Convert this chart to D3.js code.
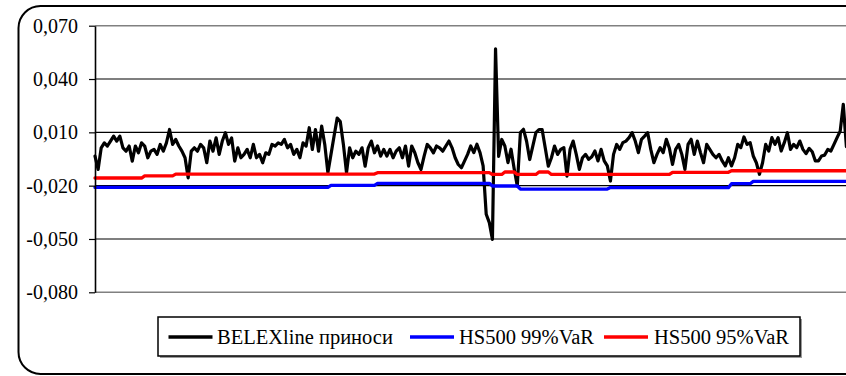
<!DOCTYPE html>
<html>
<head>
<meta charset="utf-8">
<script src="https://cdn.jsdelivr.net/npm/d3@7"></script>
<style>
  html, body { margin: 0; padding: 0; background: #fff; }
  svg { display: block; }
  svg text { font-family: "Liberation Serif", "DejaVu Serif", "Times New Roman", serif; fill: #000; }
</style>
</head>
<body>
<svg id="chart" width="846" height="376"></svg>
<script>
// Daily BELEXline returns
const returns = [
  -0.0034, -0.0109, 0.0013, 0.0041, 0.0023, 0.0051, 0.0079, 0.0051, 0.0079, 0.0013,
  -0.0006, 0.0023, -0.0062, 0.0023, -0.0015, 0.0041, 0.0023, -0.0043, -0.0006, 0.0004,
  -0.0024, 0.0032, -0.0006, 0.0041, 0.0116, 0.0032, 0.0060, 0.0023, -0.0006, -0.0043,
  -0.0156, -0.0006, 0.0013, -0.0006, 0.0032, 0.0013, -0.0071, 0.0051, -0.0006, 0.0069,
  -0.0024, 0.0051, 0.0098, 0.0032, 0.0069, -0.0062, 0.0013, -0.0043, -0.0024, 0.0004,
  -0.0043, 0.0032, -0.0043, -0.0024, -0.0071, -0.0015, -0.0024, 0.0032, 0.0023, 0.0041,
  0.0032, 0.0060, 0.0013, 0.0032, -0.0024, 0.0004, -0.0043, 0.0041, 0.0023, 0.0126,
  0.0004, 0.0116, -0.0006, 0.0135, 0.0032, -0.0127, -0.0024, 0.0079, 0.0180, 0.0160,
  0.0032, -0.0127, 0.0013, -0.0043, -0.0006, -0.0024, 0.0013, -0.0090, 0.0013, 0.0051,
  -0.0015, 0.0023, -0.0034, 0.0004, -0.0034, 0.0004, -0.0043, -0.0006, 0.0013, -0.0043,
  0.0023, -0.0090, 0.0023, -0.0015, -0.0071, -0.0109, -0.0034, 0.0032, 0.0013, -0.0015,
  0.0023, 0.0013, -0.0006, 0.0023, 0.0051, 0.0013, -0.0043, -0.0081, -0.0099, -0.0062,
  -0.0024,
  0.0023, -0.0014, 0.0033, -0.0014, -0.0089, -0.0361, -0.0408, -0.0502, 0.0570,
  -0.0035, 0.0060, 0.0023, -0.0070, 0.0005, -0.0105, -0.0202, 0.0098, 0.0117,
  0.0050, -0.0053, 0.0023, 0.0098, 0.0116, 0.0116, 0.0013, -0.0090, -0.0043, 0.0023, -0.0024,
  0.0004, 0.0014, -0.0146, 0.0004, 0.0051, -0.0024, -0.0108, -0.0043, -0.0024, -0.0052,
  -0.0037, -0.0005, -0.0061, 0.0004, -0.0061, -0.0089, -0.0174, -0.0024, 0.0032, 0.0004,
  0.0042, 0.0051, 0.0070, 0.0098, 0.0051, -0.0014, 0.0061, 0.0079, 0.0098, 0.0004,
  -0.0071, -0.0024, 0.0014,
  -0.0014, 0.0061, 0.0010, -0.0080, 0.0004, 0.0032, -0.0024, -0.0108, 0.0032, 0.0061,
  -0.0024, 0.0051, -0.0014, -0.0071, 0.0032, 0.0004, -0.0024, -0.0043, -0.0024, -0.0061,
  -0.0089, -0.0043, -0.0089, -0.0043, 0.0032, 0.0014, 0.0074, 0.0032, 0.0042, -0.0033,
  -0.0071, -0.0136, -0.0071, 0.0032, -0.0005, 0.0070, 0.0032, 0.0070, -0.0005, 0.0042,
  0.0098, 0.0004, 0.0032, 0.0014, 0.0051, 0.0004, -0.0020, 0.0010, -0.0009, -0.0061,
  -0.0061, -0.0033, -0.0028, 0.0004, -0.0005, 0.0032, 0.0070, 0.0107, 0.0258, 0.0020
];

// Historical-simulation VaR, 500-day window, 99% level
const var99 = [
  -0.0210, -0.0210, -0.0210, -0.0210, -0.0210, -0.0210, -0.0210, -0.0210, -0.0210, -0.0210,
  -0.0210, -0.0210, -0.0210, -0.0210, -0.0210, -0.0210, -0.0210, -0.0210, -0.0210, -0.0210,
  -0.0210, -0.0210, -0.0210, -0.0210, -0.0210, -0.0210, -0.0210, -0.0210, -0.0210, -0.0210,
  -0.0210, -0.0210, -0.0210, -0.0210, -0.0210, -0.0210, -0.0210, -0.0210, -0.0210, -0.0210,
  -0.0210, -0.0210, -0.0210, -0.0210, -0.0210, -0.0210, -0.0210, -0.0210, -0.0210, -0.0210,
  -0.0210, -0.0210, -0.0210, -0.0210, -0.0210, -0.0210, -0.0210, -0.0210, -0.0210, -0.0210,
  -0.0210, -0.0210, -0.0210, -0.0210, -0.0210, -0.0210, -0.0210, -0.0210, -0.0210, -0.0210,
  -0.0210, -0.0210, -0.0210, -0.0210, -0.0210, -0.0210,
  -0.0198, -0.0198, -0.0198, -0.0198, -0.0198, -0.0198, -0.0198, -0.0198, -0.0198, -0.0198,
  -0.0198, -0.0198, -0.0198, -0.0198, -0.0198,
  -0.0187, -0.0187, -0.0187, -0.0187, -0.0187, -0.0187, -0.0187, -0.0187, -0.0187, -0.0187,
  -0.0187, -0.0187, -0.0187, -0.0187, -0.0187, -0.0187, -0.0187, -0.0187, -0.0187, -0.0187,
  -0.0187, -0.0187, -0.0187, -0.0187, -0.0187, -0.0187, -0.0187, -0.0187, -0.0187, -0.0187,
  -0.0187, -0.0187, -0.0187, -0.0187, -0.0187, -0.0187, -0.0187,
  -0.0202, -0.0202, -0.0202, -0.0202, -0.0202, -0.0202, -0.0202, -0.0202, -0.0202,
  -0.0219, -0.0219, -0.0219, -0.0219, -0.0219, -0.0219, -0.0219, -0.0219, -0.0219, -0.0219,
  -0.0219, -0.0219, -0.0219, -0.0219, -0.0219, -0.0219, -0.0219, -0.0219, -0.0219, -0.0219,
  -0.0219, -0.0219, -0.0219, -0.0219, -0.0219, -0.0219, -0.0219, -0.0219, -0.0219,
  -0.0211, -0.0211, -0.0211, -0.0211, -0.0211, -0.0211, -0.0211, -0.0211, -0.0211, -0.0211,
  -0.0211, -0.0211, -0.0211, -0.0211, -0.0211, -0.0211, -0.0211, -0.0211, -0.0211, -0.0211,
  -0.0211, -0.0211, -0.0211, -0.0211, -0.0211, -0.0211, -0.0211, -0.0211, -0.0211, -0.0211,
  -0.0211, -0.0211, -0.0211, -0.0211, -0.0211, -0.0211, -0.0211, -0.0211, -0.0211,
  -0.0189, -0.0189, -0.0189, -0.0189, -0.0189, -0.0189, -0.0189,
  -0.0176, -0.0176, -0.0176, -0.0176, -0.0176, -0.0176, -0.0176, -0.0176, -0.0176, -0.0176,
  -0.0176, -0.0176, -0.0176, -0.0176, -0.0176, -0.0176, -0.0176, -0.0176, -0.0176, -0.0176,
  -0.0176, -0.0176, -0.0176, -0.0176, -0.0176, -0.0176, -0.0176, -0.0176, -0.0176, -0.0176,
  -0.0176
];

// Historical-simulation VaR, 500-day window, 95% level
const var95 = [
  -0.0157, -0.0157, -0.0157, -0.0157, -0.0157, -0.0157, -0.0157, -0.0157, -0.0157, -0.0157,
  -0.0157, -0.0157, -0.0157, -0.0157, -0.0157, -0.0157,
  -0.0145, -0.0145, -0.0145, -0.0145, -0.0145, -0.0145, -0.0145, -0.0145, -0.0145, -0.0145,
  -0.0135, -0.0135, -0.0135, -0.0135, -0.0135, -0.0135, -0.0135, -0.0135, -0.0135, -0.0135,
  -0.0135, -0.0135, -0.0135, -0.0135, -0.0135, -0.0135, -0.0135, -0.0135, -0.0135, -0.0135,
  -0.0135, -0.0135, -0.0135, -0.0135, -0.0135, -0.0135, -0.0135, -0.0135, -0.0135, -0.0135,
  -0.0135, -0.0135, -0.0135, -0.0135, -0.0135, -0.0135, -0.0135, -0.0135, -0.0135, -0.0135,
  -0.0135, -0.0135, -0.0135, -0.0135, -0.0135, -0.0135, -0.0135, -0.0135, -0.0135, -0.0135,
  -0.0135, -0.0135, -0.0135, -0.0135, -0.0135, -0.0135, -0.0135, -0.0135, -0.0135, -0.0135,
  -0.0135, -0.0135, -0.0135, -0.0135, -0.0135,
  -0.0127, -0.0127, -0.0127, -0.0127, -0.0127, -0.0127, -0.0127, -0.0127, -0.0127, -0.0127,
  -0.0127, -0.0127, -0.0127, -0.0127, -0.0127, -0.0127, -0.0127, -0.0127, -0.0127, -0.0127,
  -0.0127, -0.0127, -0.0127, -0.0127, -0.0127, -0.0127, -0.0127, -0.0127, -0.0127, -0.0127,
  -0.0127, -0.0127, -0.0127, -0.0127, -0.0127, -0.0127, -0.0127,
  -0.0137, -0.0137, -0.0137, -0.0137,
  -0.0123, -0.0123, -0.0123, -0.0123,
  -0.0137, -0.0137, -0.0137, -0.0137, -0.0137, -0.0137, -0.0137,
  -0.0123, -0.0123, -0.0123, -0.0123,
  -0.0137, -0.0137, -0.0137, -0.0137, -0.0137, -0.0137, -0.0137, -0.0137, -0.0137, -0.0137,
  -0.0137, -0.0137, -0.0137, -0.0137, -0.0137, -0.0137, -0.0137, -0.0137, -0.0137, -0.0137,
  -0.0137, -0.0137, -0.0137, -0.0137, -0.0137, -0.0137, -0.0137, -0.0137, -0.0137, -0.0137,
  -0.0137, -0.0137, -0.0137, -0.0137, -0.0137, -0.0137, -0.0137, -0.0137, -0.0137,
  -0.0125, -0.0125, -0.0125, -0.0125, -0.0125, -0.0125, -0.0125, -0.0125, -0.0125, -0.0125,
  -0.0125, -0.0125, -0.0125, -0.0125, -0.0125, -0.0125, -0.0125, -0.0125, -0.0125,
  -0.0116, -0.0116, -0.0116, -0.0116, -0.0116, -0.0116, -0.0116, -0.0116, -0.0116, -0.0116,
  -0.0116, -0.0116, -0.0116, -0.0116, -0.0116, -0.0116, -0.0116, -0.0116, -0.0116, -0.0116,
  -0.0116, -0.0116, -0.0116, -0.0116, -0.0116, -0.0116, -0.0116, -0.0116, -0.0116, -0.0116,
  -0.0116, -0.0116, -0.0116, -0.0116, -0.0116, -0.0116, -0.0116, -0.0116
];

const yTicks = [0.07, 0.04, 0.01, -0.02, -0.05, -0.08];
const seriesNames = ["BELEXline приноси", "HS500 99%VaR", "HS500 95%VaR"];
const seriesColors = ["#000000", "#0000ff", "#ff0000"];
const serif = "'Liberation Serif', 'DejaVu Serif', 'Times New Roman', serif";

const svg = d3.select("#chart");
const plot = { left: 95, right: 846.4, top: 25.7, bottom: 292.3 };

const x = d3.scaleLinear().domain([0, returns.length - 1]).range([plot.left, plot.right]);
const y = d3.scaleLinear().domain([-0.08, 0.07]).range([plot.bottom, plot.top]);

const locale = d3.formatLocale({ decimal: ",", thousands: ".", grouping: [3], currency: ["", ""], minus: "-" });
const fmt = locale.format(".3f");

// chart frame with rounded corners (continues past the right edge)
svg.append("rect")
  .attr("x", 18.5).attr("y", 6).attr("width", 900).attr("height", 368)
  .attr("rx", 22).attr("ry", 22)
  .attr("fill", "#fff").attr("stroke", "#000").attr("stroke-width", 2);

// horizontal gridlines
svg.append("g")
  .selectAll("line")
  .data(yTicks.slice(1, -1))
  .join("line")
  .attr("x1", plot.left).attr("x2", plot.right)
  .attr("y1", d => y(d)).attr("y2", d => y(d))
  .attr("stroke", "#000").attr("stroke-width", 1.2);

// plot-area border (top and bottom edges)
svg.append("g")
  .selectAll("line")
  .data([0.07, -0.08])
  .join("line")
  .attr("x1", plot.left).attr("x2", plot.right)
  .attr("y1", d => y(d)).attr("y2", d => y(d))
  .attr("stroke", "#808080").attr("stroke-width", 1.5);

// series lines
const line = d3.line().x((d, i) => x(i)).y(d => y(d));
[returns, var99, var95].forEach((data, k) => {
  svg.append("path")
    .datum(data)
    .attr("d", line)
    .attr("fill", "none")
    .attr("stroke", seriesColors[k])
    .attr("stroke-width", k === 0 ? 3.2 : 3.3)
    .attr("stroke-linejoin", "round")
    .attr("stroke-linecap", "round");
});

// value axis
const yAxis = d3.axisLeft(y)
  .tickValues(yTicks)
  .tickFormat(fmt)
  .tickSizeInner(6)
  .tickSizeOuter(0)
  .tickPadding(11);

const gy = svg.append("g")
  .attr("transform", `translate(${plot.left},0)`)
  .call(yAxis)
  .attr("font-family", serif)
  .attr("font-size", 20);
gy.select(".domain").attr("stroke", "#000").attr("stroke-width", 1.6);
gy.selectAll(".tick line").attr("stroke", "#000").attr("stroke-width", 1.2);
gy.selectAll(".tick text")
  .style("font-family", serif)
  .style("font-size", "20px")
  .attr("fill", "#000");

// legend
const legend = svg.append("g");
legend.append("rect")
  .attr("x", 160).attr("y", 319).attr("width", 642).attr("height", 39)
  .attr("fill", "#9a9a9a");
legend.append("rect")
  .attr("x", 158).attr("y", 317).attr("width", 642).attr("height", 39)
  .attr("fill", "#fff").attr("stroke", "#000").attr("stroke-width", 1.5);

const legendItems = [
  { x1: 168.5, x2: 212.5, tx: 217 },
  { x1: 410, x2: 454, tx: 459 },
  { x1: 604, x2: 648, tx: 654 }
];
legendItems.forEach((it, k) => {
  legend.append("line")
    .attr("x1", it.x1).attr("x2", it.x2)
    .attr("y1", 337).attr("y2", 337)
    .attr("stroke", seriesColors[k]).attr("stroke-width", 3.3);
  legend.append("text")
    .attr("x", it.tx).attr("y", 344)
    .style("font-family", serif)
    .style("font-size", "20.5px")
    .text(seriesNames[k]);
});
</script>
</body>
</html>
